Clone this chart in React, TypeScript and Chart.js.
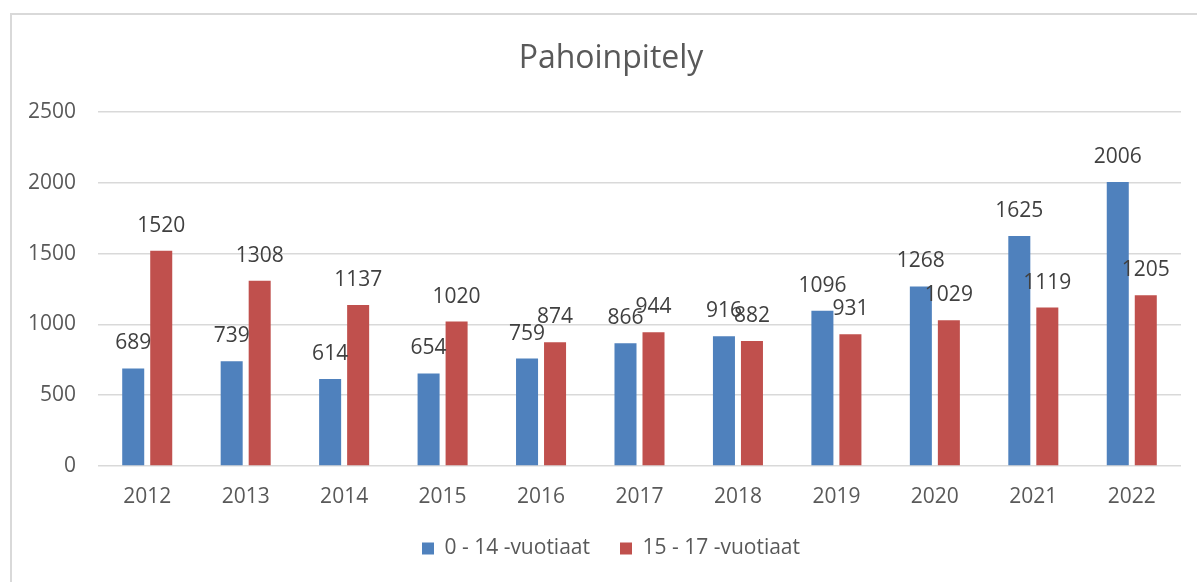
import React, { useEffect, useRef } from "react";
import { Chart, registerables } from "chart.js";

Chart.register(...registerables);

const categories = ["2012", "2013", "2014", "2015", "2016", "2017", "2018", "2019", "2020", "2021", "2022"];
const seriesNames = ["0 - 14 -vuotiaat", "15 - 17 -vuotiaat"];
const young = [689, 739, 614, 654, 759, 866, 916, 1096, 1268, 1625, 2006];
const older = [1520, 1308, 1137, 1020, 874, 944, 882, 931, 1029, 1119, 1205];
const yTicks = [0, 500, 1000, 1500, 2000, 2500];
const titleText = "Pahoinpitely";

const FONT = "'Open Sans', 'Noto Sans', sans-serif";

const dataLabels = {
  id: "dataLabels",
  afterDatasetsDraw(chart: any) {
    const ctx = chart.ctx;
    ctx.save();
    ctx.font = `21px ${FONT}`;
    ctx.fillStyle = "#404040";
    ctx.textAlign = "center";
    ctx.textBaseline = "alphabetic";
    chart.data.datasets.forEach((ds: any, di: number) => {
      const meta = chart.getDatasetMeta(di);
      meta.data.forEach((bar: any, i: number) => {
        ctx.fillText(String(ds.data[i]), bar.x, bar.y - 19);
      });
    });
    ctx.restore();
  },
};

export default function App() {
  const ref = useRef<HTMLCanvasElement | null>(null);
  useEffect(() => {
    if (!ref.current) return;
    const chart = new Chart(ref.current, {
      type: "bar",
      data: {
        labels: categories,
        datasets: [
          { label: seriesNames[0], data: young, backgroundColor: "#4f81bd" },
          { label: seriesNames[1], data: older, backgroundColor: "#c0504d" },
        ],
      },
      options: {
        animation: false,
        responsive: false,
        layout: { padding: { left: 0, right: 0, top: 0, bottom: 13 } },
        datasets: {
          bar: { categoryPercentage: 0.569, barPercentage: 0.786 },
        } as any,
        scales: {
          x: {
            grid: { display: false, drawTicks: false },
            border: { display: false },
            ticks: { color: "#595959", font: { size: 21, family: FONT }, padding: 18, maxRotation: 0 },
            afterFit: (s: any) => { s.height = 42; },
          },
          y: {
            min: 0,
            max: 2500,
            afterBuildTicks: (s: any) => { s.ticks = yTicks.map((v) => ({ value: v })); },
            grid: { color: "#d9d9d9", lineWidth: 1.5, drawTicks: false },
            border: { display: false },
            ticks: {
              color: "#595959",
              font: { size: 21, family: FONT },
              padding: 22,
              callback: (v: any) => String(v),
            },
            afterFit: (s: any) => { s.width = 86; },
          },
          yRight: {
            type: "linear",
            position: "right",
            min: 0,
            max: 2500,
            grid: { display: false, drawTicks: false },
            border: { display: false },
            ticks: { display: false },
            afterFit: (s: any) => { s.width = 29; },
          },
        },
        plugins: {
          title: {
            display: true,
            text: titleText,
            color: "#595959",
            font: { size: 32, family: FONT, weight: "normal" },
            padding: { top: 25, bottom: 33.6 },
          },
          legend: {
            position: "bottom",
            labels: {
              color: "#595959",
              font: { size: 21, family: FONT },
              boxWidth: 12,
              boxHeight: 12,
              padding: 30,
            },
          },
          tooltip: { enabled: false },
        },
      },
      plugins: [dataLabels],
    });
    return () => chart.destroy();
  }, []);

  return (
    <div style={{ position: "fixed", left: 0, top: 0, width: 1197, height: 582, overflow: "hidden", background: "#fff" }}>
      <div
        style={{
          position: "absolute",
          left: 10,
          top: 13,
          width: 1198,
          height: 569,
          borderLeft: "2px solid #d9d9d9",
          borderTop: "2px solid #d9d9d9",
        }}
      >
        <canvas ref={ref} width={1198} height={567} style={{ display: "block", width: 1198, height: 567 }} />
      </div>
    </div>
  );
}
